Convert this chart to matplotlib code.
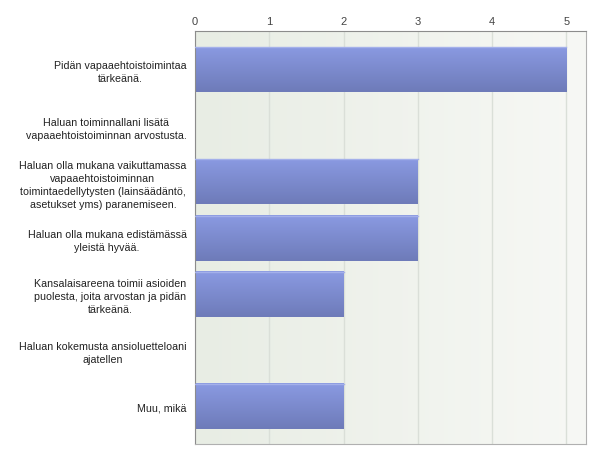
import numpy as np
import matplotlib
matplotlib.use("Agg")
import matplotlib.pyplot as plt
from matplotlib.colors import LinearSegmentedColormap

categories = [
    "Pidän vapaaehtoistoimintaa\ntärkeänä.",
    "Haluan toiminnallani lisätä\nvapaaehtoistoiminnan arvostusta.",
    "Haluan olla mukana vaikuttamassa\nvapaaehtoistoiminnan\ntoimintaedellytysten (lainsäädäntö,\nasetukset yms) paranemiseen.",
    "Haluan olla mukana edistämässä\nyleistä hyvää.",
    "Kansalaisareena toimii asioiden\npuolesta, joita arvostan ja pidän\ntärkeänä.",
    "Haluan kokemusta ansioluetteloani\najatellen",
    "Muu, mikä",
]
values = [5, 0, 3, 3, 2, 0, 2]
xticks = [0, 1, 2, 3, 4, 5]

plt.rcParams['font.family'] = ['Liberation Sans', 'DejaVu Sans']

fig = plt.figure(figsize=(6, 4.6), dpi=100)
ax = fig.add_axes([0.325, 0.033, 0.651, 0.897])

xmax = 5.26
n = len(categories)
ylim = (6.67, -0.68)

# background gradient
bg = LinearSegmentedColormap.from_list("bg", ["#e8ede4", "#f7f8f5"])
ax.imshow(np.linspace(0, 1, 256).reshape(1, -1), cmap=bg, aspect="auto",
          extent=[0, xmax, ylim[0], ylim[1]], zorder=0)

ax.set_xticks(xticks)
ax.xaxis.tick_top()
ax.grid(axis="x", color="#dadfd8", linewidth=1, zorder=1)

bar_cmap = LinearSegmentedColormap.from_list("bar", ["#8a9ae2", "#6e7bb9"])
bh = 0.81
bars = ax.barh(range(n), values, height=bh, color="none", zorder=2)
for b, v in zip(bars, values):
    if v <= 0:
        continue
    y0 = b.get_y()
    im = ax.imshow(np.linspace(0, 1, 64).reshape(-1, 1), cmap=bar_cmap, aspect="auto",
                   extent=[0, v, y0 + bh, y0], zorder=2)
    im.set_clip_path(b)
    ax.plot([0, v], [y0 + 0.01, y0 + 0.01], color="#a4b0ea", lw=1, zorder=3)

ax.set_xlim(0, xmax)
ax.set_ylim(*ylim)

ax.set_yticks(range(n))
ax.set_yticklabels(categories, multialignment="center", linespacing=1.38)
ax.tick_params(axis="y", length=0, pad=6, labelsize=7.7, labelcolor="#222222")
ax.tick_params(axis="x", length=0, pad=4, labelsize=8, labelcolor="#444444")

for s in ["left", "top"]:
    ax.spines[s].set_color("#8c8c8c")
for s in ["right", "bottom"]:
    ax.spines[s].set_color("#b0b0b0")

fig.savefig("out.png", dpi=100)
